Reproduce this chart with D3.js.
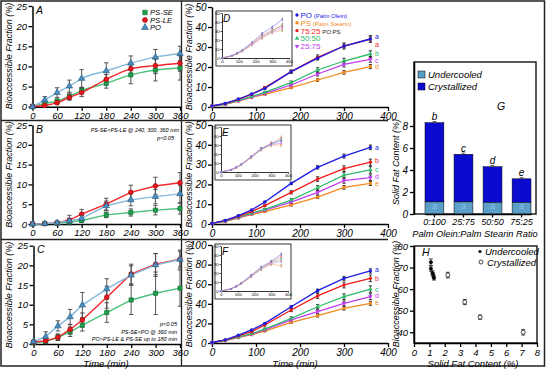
<!DOCTYPE html>
<html><head><meta charset="utf-8">
<script src="https://cdn.jsdelivr.net/npm/d3@7"></script>
<style>body{margin:0;background:#fff} svg{display:block} text{font-family:"Liberation Sans",Arial,sans-serif;}</style>
</head><body><svg id="c" width="546" height="369"></svg>
<script>
// ---------- DATA ----------
const times = [0,30,60,90,120,180,240,300,360];
const timeTicksLeft = [0,60,120,180,240,300,360];
// Panel A
const A_PSSE = [0,0.8,1.4,2.6,4.0,5.8,7.9,9.1,9.6];
const A_PSSE_err = [0.2,0.5,0.5,0.8,0.8,1.2,2.2,2.7,3.0];
const A_PSLE = [0.1,0.3,1.0,2.3,3.5,6.8,9.4,10.2,10.8];
const A_PSLE_err = [0.2,0.4,0.5,0.7,1.0,1.2,1.5,2.0,2.0];
const A_PO = [0,1.7,3.5,5.1,7.0,8.9,10.8,12.3,13.2];
const A_PO_err = [0.2,0.8,1.2,1.5,2.2,2.0,1.8,1.9,1.8];
// Panel B
const B_PSSE = [0,0.1,0.2,0.5,0.9,2.3,2.9,3.5,3.9];
const B_PSSE_err = [0.1,0.1,0.2,0.4,0.5,0.7,0.9,1.2,1.4];
const B_PSLE = [0.1,0.1,0.3,1.0,2.5,5.0,8.0,9.6,10.4];
const B_PSLE_err = [0.1,0.2,0.4,1.2,1.2,1.5,1.8,2.2,2.6];
const B_PO = [0,0.1,0.3,0.8,1.4,4.6,6.1,6.9,7.6];
const B_PO_err = [0.1,0.2,0.3,0.6,0.8,1.2,1.5,1.8,2.2];
// Panel C
const C_PSSE = [0.3,0.6,1.7,3.1,4.8,8.0,11.2,12.9,14.2];
const C_PSSE_err = [0.3,0.5,0.8,1.2,1.5,2.5,3.7,5.4,4.6];
const C_PSLE = [0.5,0.8,1.7,3.7,6.1,11.9,17.8,20.3,21.6];
const C_PSLE_err = [0.3,0.6,0.8,1.2,1.8,2.8,2.5,2.7,2.0];
const C_PO = [0.6,1.9,4.6,6.9,9.9,14.0,17.5,20.1,21.5];
const C_PO_err = [0.4,1.2,1.3,1.9,3.2,2.6,2.4,2.9,2.4];
// Panels D, E, F (main)
const D_PO   = [0.5,1.8,4.0,6.5,9.3,17.7,24.4,30.5,34.0];
const D_7525 = [0.5,1.7,3.8,6.3,9.7,17.7,24.8,30.5,34.0];
const D_5050 = [0.4,1.5,3.3,5.3,7.3,12.2,18.5,23.0,26.5];
const D_2575 = [0.4,1.4,3.1,5.0,6.8,11.0,16.5,21.3,23.8];
const D_PS   = [0.4,1.3,3.0,4.8,6.3,9.7,13.5,17.3,20.2];
const E_PO   = [0.3,1.8,4.2,7.1,11.1,20.5,28.6,34.3,38.7];
const E_7525 = [0.3,1.7,3.9,6.3,9.3,16.0,22.7,28.0,31.2];
const E_5050 = [0.3,1.5,3.5,5.5,7.4,12.1,18.3,24.7,27.3];
const E_2575 = [0.3,1.4,3.2,5.2,7.0,11.0,16.0,21.9,23.4];
const E_PS   = [0.3,1.3,3.0,4.8,6.2,9.6,13.6,18.5,20.5];
const F_PO   = [0.5,3.2,8.0,13.3,20.0,37.0,53.4,66.0,73.5];
const F_7525 = [0.5,3.0,7.3,11.5,18.4,33.7,48.0,59.2,66.0];
const F_5050 = [0.5,2.8,6.3,9.5,14.3,25.2,37.0,47.3,55.0];
const F_2575 = [0.5,2.7,6.0,9.0,13.5,23.5,32.0,40.5,47.3];
const F_PS   = [0.5,2.5,5.6,8.5,12.2,21.1,27.9,35.4,40.5];
const sigLetters = {D:["a","a","b","c","d"], E:["a","b","c","d","e"], F:["a","b","c","d","e"]};
// Insets
const insetTimes = [0,60,90,120,180,240,300,360];
const Di_PO   = [0,2.7,5.4,8.7,17.4,27.3,34.2,43];
const Di_7525 = [0,2.5,5.0,8.0,16.5,25,31,36];
const Di_5050 = [0,2.4,4.8,7.8,16,24,30,37];
const Di_2575 = [0,2.3,4.6,7.5,15,23,29,34];
const Di_PS   = [0,2.2,4.5,7.2,14.5,22,28.5,31];
const Ei_PO   = [0,2.5,5.2,8.5,17,26,31,35];
const Ei_7525 = [0,2.5,5.0,8.3,17,26,32,38];
const Ei_5050 = [0,2.4,5.0,8.0,16.5,25.5,31,36];
const Ei_2575 = [0,2.3,4.8,7.8,16,25,30.5,32];
const Ei_PS   = [0,2.2,4.6,7.5,15.5,24.5,30,30];
const Fi_PO   = [0,2.5,5.3,8.7,17.5,26.5,33,41];
const Fi_7525 = [0,2.4,5.1,8.4,17,26,32,38];
const Fi_5050 = [0,2.4,5.0,8.2,16.5,25,31.5,35];
const Fi_2575 = [0,2.3,4.8,8.0,16,24.5,30.5,33];
const Fi_PS   = [0,2.2,4.6,7.8,15.5,24,30,28];
// Panel G
const ratios = ["0:100","25:75","50:50","75:25"];
const sfcUndercooled = [1.1,1.1,1.05,1.05];
const sfcTotal = [8.3,5.43,4.3,3.2];
const sfcLetters = ["b","c","d","e"];
// Panel H
const hUC_x = [1.1,1.1,1.2,1.25,1.3];
const hUC_y = [72.5,69.5,67.5,66.5,65.2];
const hUC_err = [1.5,1.2,1.0,1.0,1.0];
const hCR_x = [2.2,3.3,4.3,7.1];
const hCR_y = [66.5,54,47,40];
const hCR_err = [1.3,1.2,1.0,1.3];

// ---------- DRAW ----------
const svg = d3.select("#c");
const C = {
  se:"#1f9e4b", seL:"#4cc07a", le:"#e8141c", leL:"#f0262a", po:"#4a8fc0", poL:"#86b9dc",
  mPO:"#1c1ce6", mPS:"#f08a1e", m75:"#f01a1a", m50:"#2fbd6c", m25:"#c23ef0",
  cr:"#0b0bcf", uc:"#5b9fc7"
};

function styleAxis(ax, fs) {
  ax.select(".domain").attr("stroke","#000").attr("stroke-width",1.5);
  ax.selectAll(".tick line").attr("stroke","#000").attr("stroke-width",1.3);
  ax.selectAll(".tick text").attr("font-size",fs).attr("font-style","italic").attr("fill","#000")
    .attr("font-family",'"Liberation Sans",Arial,sans-serif');
}

function sym(shape, size) {
  const t = {square:d3.symbolSquare, circle:d3.symbolCircle, tri:d3.symbolTriangle, down:d3.symbolTriangle}[shape];
  return d3.symbol().type(t).size(size)();
}

function timePanel(o) {
  const g = svg.append("g");
  const x = d3.scaleLinear().domain(o.xd).range([o.l, o.r]);
  const y = d3.scaleLinear().domain(o.yd).range([o.b, o.t]);
  const ax = g.append("g").attr("transform",`translate(0,${o.b})`)
    .call(d3.axisBottom(x).tickValues(o.xt).tickSize(o.ts||4).tickSizeOuter(0).tickPadding(o.tp||1.5));
  styleAxis(ax, o.fs);
  const ay = g.append("g").attr("transform",`translate(${o.l},0)`)
    .call(d3.axisLeft(y).tickValues(o.yt).tickSize(o.ts||4).tickSizeOuter(0).tickPadding(o.tp||1.5));
  styleAxis(ay, o.fs);
  if (o.thin) { [ax,ay].forEach(a=>{a.select(".domain").attr("stroke-width",0.8); a.selectAll(".tick line").attr("stroke-width",0.7);}); }
  const line = d3.line().x((d,i)=>x(o.tx[i])).y(d=>y(d)).curve(o.curve||d3.curveLinear);
  o.series.forEach(s=>{
    g.append("path").attr("d",line(s.v)).attr("fill","none").attr("stroke",s.lc||s.c).attr("stroke-width",o.lw||1.4);
  });
  o.series.forEach(s=>{
    if(!s.e) return;
    s.v.forEach((d,i)=>{
      const xx = x(o.tx[i]), e=s.e[i], cw=o.cw||2;
      g.append("path").attr("d",`M${xx},${y(d-e)}V${y(d+e)}M${xx-cw},${y(d-e)}H${xx+cw}M${xx-cw},${y(d+e)}H${xx+cw}`)
        .attr("stroke",o.ec||"#444").attr("stroke-width",o.ew||0.9).attr("fill","none");
    });
  });
  if (o.ms) o.series.forEach(s=>{
    s.v.forEach((d,i)=>{
      g.append("path").attr("d",sym(s.s,o.ms))
        .attr("transform",`translate(${x(o.tx[i])},${y(d)})${s.s==="down"?" rotate(180)":""}`)
        .attr("fill",s.f||s.c).attr("stroke",s.st||"none").attr("stroke-width",0.6);
    });
  });
  return {g,x,y,ax,ay};
}

function txt(t, x, y, opt={}) {
  const e = svg.append("text").attr("x",x).attr("y",y).text(t)
    .attr("font-size",opt.fs||10).attr("fill",opt.c||"#000")
    .attr("font-style",opt.it===false?"normal":"italic")
    .attr("text-anchor",opt.a||"start");
  if (opt.rot) e.attr("transform",`rotate(-90,${x},${y})`).attr("text-anchor","middle");
  if (opt.w) e.attr("font-weight",opt.w);
  return e;
}

// frames
svg.append("rect").attr("x",1).attr("y",1).attr("width",543.5).attr("height",365)
  .attr("fill","none").attr("stroke","#222").attr("stroke-width",1.5);
svg.append("path").attr("d","M181.5,1V366M1,120.5H388M1,239.5H388")
  .attr("stroke","#222").attr("stroke-width",1.3).attr("fill","none");

// Left column
const leftSeries = (se,see,le,lee,po,poe)=>[
  {v:se,e:see,c:C.se,lc:C.seL,s:"square",st:"#0d6a2f"},
  {v:le,e:lee,c:C.le,lc:C.leL,s:"circle",st:"#9a0c10"},
  {v:po,e:poe,c:C.po,lc:C.poL,s:"tri",st:"#24557f"}
];
const leftCfg = {l:32.5, r:180, xd:[0,360], yd:[0,25], xt:timeTicksLeft, yt:[0,5,10,15,20,25], tx:times, fs:9.5, ms:18, cw:2.2, lw:1.4};
timePanel(Object.assign({}, leftCfg, {t:6, b:106.7, series:leftSeries(A_PSSE,A_PSSE_err,A_PSLE,A_PSLE_err,A_PO,A_PO_err), curve:d3.curveMonotoneX}));
timePanel(Object.assign({}, leftCfg, {t:125, b:224, series:leftSeries(B_PSSE,B_PSSE_err,B_PSLE,B_PSLE_err,B_PO,B_PO_err)}));
timePanel(Object.assign({}, leftCfg, {l:33.5, t:245.7, b:344, series:leftSeries(C_PSSE,C_PSSE_err,C_PSLE,C_PSLE_err,C_PO,C_PO_err)}));

[56,174.5,295].forEach(cy=>txt("Bioaccessible Fraction (%)",12,cy,{rot:true,fs:9}));
txt("A",36,14,{fs:10.5}); txt("B",36,133,{fs:10.5}); txt("C",37,253,{fs:10.5});
const legA = [["PS-SE",C.se,"square","#0d6a2f"],["PS-LE",C.le,"circle","#9a0c10"],["PO",C.po,"tri","#24557f"]];
legA.forEach((d,i)=>{
  svg.append("path").attr("d",sym(d[2],20)).attr("transform",`translate(145,${12.5+i*7.5})`).attr("fill",d[1]).attr("stroke",d[3]).attr("stroke-width",0.6);
  txt(d[0],150,15.3+i*7.5,{fs:7.6});
});
txt("PS-SE<PS-LE @ 240, 300, 360 min",179,132,{fs:5.5,a:"end"});
txt("p<0.05",174,140,{fs:5.5,a:"end"});
txt("p<0.05",177,326,{fs:5.5,a:"end"});
txt("PS-SE<PO @ 360 min",177,333.5,{fs:5.5,a:"end"});
txt("PO>PS-LE & PS-SE up to 180 min",177,341,{fs:5.5,a:"end"});
txt("Time (min)",106,366.5,{fs:9.5,a:"middle"});

// Middle column
const midSeries = (po,r,g5,p,ps)=>[
  {v:ps,c:C.mPS,s:"square",e:ps.map(d=>Math.max(0.3,d*0.05))},
  {v:p,c:C.m25,s:"down",e:p.map(d=>Math.max(0.3,d*0.06))},
  {v:g5,c:C.m50,s:"tri",e:g5.map(d=>Math.max(0.3,d*0.06))},
  {v:r,c:C.m75,s:"circle",e:r.map(d=>Math.max(0.3,d*0.05))},
  {v:po,c:C.mPO,s:"circle",e:po.map(d=>Math.max(0.3,d*0.03))}
];
const midCfg = {l:212, r:388, xd:[0,400], xt:[0,100,200,300,400], tx:times, fs:10, ms:9, cw:1.6, lw:1.3, ec:"#222", ew:0.9};
timePanel(Object.assign({}, midCfg, {t:7, b:107, yd:[0,50], yt:[0,10,20,30,40,50], series:midSeries(D_PO,D_7525,D_5050,D_2575,D_PS)}));
timePanel(Object.assign({}, midCfg, {t:125, b:224, yd:[0,50], yt:[0,10,20,30,40,50], series:midSeries(E_PO,E_7525,E_5050,E_2575,E_PS)}));
timePanel(Object.assign({}, midCfg, {t:245, b:343, yd:[0,100], yt:[0,20,40,60,80,100], series:midSeries(F_PO,F_7525,F_5050,F_2575,F_PS)}));
[57,174.5,294].forEach(cy=>txt("Bioaccessible Fraction (%)",192,cy,{rot:true,fs:9}));
txt("Time (min)",295,366.5,{fs:9.5,a:"middle"});

// significance letters
const letterCols = [C.mPO,C.m75,C.m50,C.m25,C.mPS];
const letterY = {D:[36.7,44,53,60.7,66.7], E:[147.3,160.7,169.3,176.7,183.3], F:[269.3,278.3,289,295.7,302.7]};
["D","E","F"].forEach(k=>{
  sigLetters[k].forEach((L,i)=>txt(L,375,letterY[k][i]+2.5,{fs:7,c:letterCols[i],it:false}));
});

// Insets
function inset(bx,by,ser,label) {
  svg.append("rect").attr("x",bx).attr("y",by).attr("width",76).attr("height",55).attr("fill","#fff").attr("stroke","#222").attr("stroke-width",0.9);
  const p = timePanel({l:bx+6, r:bx+73, t:by+2, b:by+47, xd:[0,400], yd:[0,50], xt:[0,100,200,300,400], yt:[0,10,20,30,40,50], tx:insetTimes,
    fs:4.2, ts:1.5, tp:0.8, thin:true, lw:0.6, ms:2.5, cw:0.8, ew:0.4, ec:"#666",
    series:[
      {v:ser[4],c:"#f5b070",s:"square",e:ser[4].map(d=>d*0.05)},
      {v:ser[3],c:"#dc8cf5",s:"down",e:ser[3].map(d=>d*0.05)},
      {v:ser[2],c:"#7fd9a4",s:"tri",e:ser[2].map(d=>d*0.05)},
      {v:ser[1],c:"#f27878",s:"circle",e:ser[1].map(d=>d*0.05)},
      {v:ser[0],c:"#7878f0",s:"circle",e:ser[0].map(d=>d*0.04)}
    ]});
  p.g.selectAll(".tick text").attr("font-style","normal");
  txt(label,bx+7,by+11,{fs:10});
}
inset(216,11,[Di_PO,Di_7525,Di_5050,Di_2575,Di_PS],"D");
inset(215,125,[Ei_PO,Ei_7525,Ei_5050,Ei_2575,Ei_PS],"E");
inset(215,244,[Fi_PO,Fi_7525,Fi_5050,Fi_2575,Fi_PS],"F");

// D legend
const legD = [
  ["PO","(Palm Olein)",C.mPO,"circle",C.mPO],
  ["PS","(Palm Stearin)",C.mPS,"square",C.mPS],
  ["75:25","PO:PS",C.m75,"circle","#222"],
  ["50:50","",C.m50,"tri",""],
  ["25:75","",C.m25,"down",""]
];
legD.forEach((d,i)=>{
  const yy = 15+i*7.8;
  svg.append("path").attr("d",sym(d[3],9)).attr("transform",`translate(297,${yy})${d[3]==="down"?" rotate(180)":""}`).attr("fill",d[2]);
  const t = svg.append("text").attr("x",300.5).attr("y",yy+3).attr("font-size",8).attr("fill",d[2]);
  t.append("tspan").text(d[0]);
  if (d[1]) t.append("tspan").text(" "+d[1]).attr("font-size",6).attr("fill",d[4]);
});

// Panel G
const gL=414, gR=536, gT=62, gB=214;
const gy = d3.scaleLinear().domain([0,(gB-gT)/11]).range([gB,gT]);
const gx = d3.scaleBand().domain(ratios).range([425,531]).paddingInner(0.35);
const gg = svg.append("g");
gg.append("rect").attr("x",gL).attr("y",gT).attr("width",gR-gL).attr("height",gB-gT).attr("fill","none").attr("stroke","#000").attr("stroke-width",1.3);
ratios.forEach((r,i)=>{
  gg.append("rect").attr("x",gx(r)).attr("width",gx.bandwidth()).attr("y",gy(sfcTotal[i])).attr("height",gy(sfcUndercooled[i])-gy(sfcTotal[i]))
    .attr("fill",C.cr).attr("stroke","#000").attr("stroke-width",0.5);
  gg.append("rect").attr("x",gx(r)).attr("width",gx.bandwidth()).attr("y",gy(sfcUndercooled[i])).attr("height",gB-gy(sfcUndercooled[i]))
    .attr("fill",C.uc).attr("stroke","#000").attr("stroke-width",0.5);
  const cx = gx(r)+gx.bandwidth()/2;
  gg.append("path").attr("d",`M${cx},${gy(sfcTotal[i])-1.2}V${gy(sfcTotal[i])+1.2}M${cx-2},${gy(sfcTotal[i])-1.2}H${cx+2}`).attr("stroke","#333").attr("stroke-width",0.7);
  txt(sfcLetters[i],cx,gy(sfcTotal[i])-2.5,{fs:10,a:"middle"});
  txt("a",cx,gy(sfcUndercooled[i])+7,{fs:9,a:"middle",c:"#8cc4e8"});
});
const gAy = gg.append("g").attr("transform",`translate(${gL},0)`).call(d3.axisLeft(gy).tickValues([0,2,4,6,8]).tickSize(4).tickSizeOuter(0).tickPadding(2));
styleAxis(gAy,10);
const gAx = gg.append("g").attr("transform",`translate(0,${gB})`).call(d3.axisBottom(gx).tickSize(3.5).tickSizeOuter(0).tickPadding(1.5));
styleAxis(gAx,9);
txt("Solid Fat Content (%)",399,162,{rot:true,fs:9});
txt("Palm Olein:Palm  Stearin Ratio",475,236.5,{fs:9.3,a:"middle"});
[["Undercooled",C.uc],["Crystallized",C.cr]].forEach((d,i)=>{
  gg.append("rect").attr("x",418).attr("y",71+i*12).attr("width",7).attr("height",7).attr("fill",d[1]).attr("stroke","#000").attr("stroke-width",0.5);
  txt(d[0],428,78+i*12,{fs:9.5});
});
txt("G",497,110,{fs:10.5});

// Panel H
const hL=414, hR=537, hT=246, hB=343;
const hx = d3.scaleLinear().domain([0,8]).range([hL,hR]);
const hy = d3.scaleLinear().domain([35,80]).range([hB,hT]);
const hg = svg.append("g");
hg.append("rect").attr("x",hL).attr("y",hT).attr("width",hR-hL).attr("height",hB-hT).attr("fill","none").attr("stroke","#000").attr("stroke-width",1.3);
const hAx = hg.append("g").attr("transform",`translate(0,${hB})`).call(d3.axisBottom(hx).tickValues(d3.range(0,9)).tickSize(4).tickSizeOuter(0).tickPadding(2));
styleAxis(hAx,9.5);
const hAy = hg.append("g").attr("transform",`translate(${hL},0)`).call(d3.axisLeft(hy).tickValues([40,50,60,70,80]).tickSize(4).tickSizeOuter(0).tickPadding(2));
styleAxis(hAy,9.5);
function hpts(xs,ys,es,filled){
  xs.forEach((xv,i)=>{
    const cx=hx(xv), cy=hy(ys[i]);
    hg.append("path").attr("d",`M${cx},${hy(ys[i]-es[i])}V${hy(ys[i]+es[i])}M${cx-2},${hy(ys[i]-es[i])}H${cx+2}M${cx-2},${hy(ys[i]+es[i])}H${cx+2}`).attr("stroke","#222").attr("stroke-width",0.8);
    hg.append("circle").attr("cx",cx).attr("cy",cy).attr("r",filled?1.6:2).attr("fill",filled?"#000":"#fff").attr("stroke","#000").attr("stroke-width",0.7);
  });
}
hpts(hCR_x,hCR_y,hCR_err,false);
hpts(hUC_x,hUC_y,hUC_err,true);
txt("H",422,256,{fs:10.5});
hg.append("circle").attr("cx",480).attr("cy",251.5).attr("r",1.6).attr("fill","#000");
txt("Undercooled",485,255,{fs:9.5});
hg.append("circle").attr("cx",481).attr("cy",262).attr("r",2).attr("fill","#fff").attr("stroke","#000").attr("stroke-width",0.7);
txt("Crystallized",487,265.5,{fs:9.5});
txt("Solid Fat Content (%)",473,366.5,{fs:9.5,a:"middle"});
txt("Bioaccessible Fraction (%)",399,294,{rot:true,fs:9});
</script></body></html>
